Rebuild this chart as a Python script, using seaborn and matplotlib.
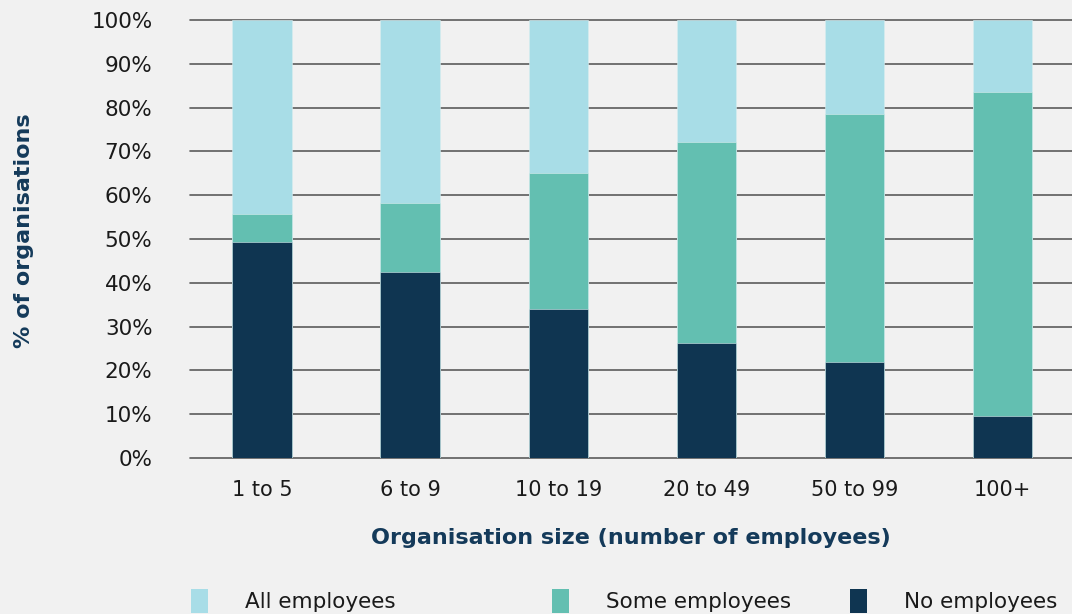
import matplotlib
matplotlib.use("Agg")
import matplotlib.pyplot as plt
import matplotlib.patches as mpatches
import seaborn as sns
import pandas as pd
import numpy as np

categories = ["1 to 5", "6 to 9", "10 to 19", "20 to 49", "50 to 99", "100+"]
no_employees = [49.4, 42.4, 34.1, 26.3, 22.0, 9.7]
some_employees = [6.4, 15.8, 31.0, 45.8, 56.6, 73.8]
all_employees = [44.2, 41.8, 34.9, 27.9, 21.4, 16.5]
y_ticks = [0, 10, 20, 30, 40, 50, 60, 70, 80, 90, 100]
y_tick_labels = [f"{t}%" for t in y_ticks]

c_all = "#a8dde7"
c_some = "#63bfb1"
c_no = "#0f3551"
bg = "#f1f1f1"
navy_text = "#143a5a"

sns.set_theme(style="white")
plt.rcParams["font.family"] = ["DejaVu Sans"]

df = pd.DataFrame({
    "size": categories,
    "No": no_employees,
    "Some": some_employees,
    "All": all_employees,
})
df["cum_no"] = df["No"]
df["cum_some"] = df["No"] + df["Some"]
df["cum_all"] = df["No"] + df["Some"] + df["All"]

fig = plt.figure(figsize=(10.72, 6.14), dpi=100, facecolor=bg)
ax = fig.add_axes([190/1072, 1-458/614, 1-190/1072, (458-20)/614])
ax.set_facecolor(bg)

for col, color in [("cum_all", c_all), ("cum_some", c_some), ("cum_no", c_no)]:
    sns.barplot(data=df, x="size", y=col, color=color, width=0.4, ax=ax,
                edgecolor="#d8eef0", linewidth=0.4, saturation=1, order=categories)

ax.set_ylim(0, 100)
ax.set_xlim(-0.486, 5.47)
ax.set_yticks(y_ticks)
ax.set_yticklabels(y_tick_labels)
ax.yaxis.grid(True, color="#5c5c5c", linewidth=1.2)
for gl in ax.get_ygridlines():
    gl.set_clip_on(False)
ax.set_axisbelow(True)
for s in ax.spines.values():
    s.set_visible(False)
ax.tick_params(axis="y", length=0, pad=27, labelsize=15.5, labelcolor="#1a1a1a")
ax.tick_params(axis="x", length=0, pad=16, labelsize=15, labelcolor="#1a1a1a")
ax.set_xlabel("Organisation size (number of employees)", fontsize=16,
              fontweight="bold", color=navy_text, labelpad=20)
ax.set_ylabel("% of organisations", fontsize=16, fontweight="bold",
              color=navy_text)
ax.yaxis.set_label_coords((34 - 190) / 882, 0.52)

labels = ["All employees", "Some employees", "No employees"]
colors = [c_all, c_some, c_no]
xpos = [191, 552, 850]
for lab, colr, xp in zip(labels, colors, xpos):
    h = mpatches.Patch(facecolor=colr, edgecolor="none")
    leg = fig.legend(handles=[h], labels=[lab], loc="center left",
                     bbox_to_anchor=(xp/1072, 1-601/614), frameon=False,
                     fontsize=15.5, handlelength=0.8, handleheight=1.35,
                     handletextpad=1.7, borderpad=0, borderaxespad=0)
    for t in leg.get_texts():
        t.set_color("#1a1a1a")

fig.savefig("out.png", dpi=100, facecolor=bg)
